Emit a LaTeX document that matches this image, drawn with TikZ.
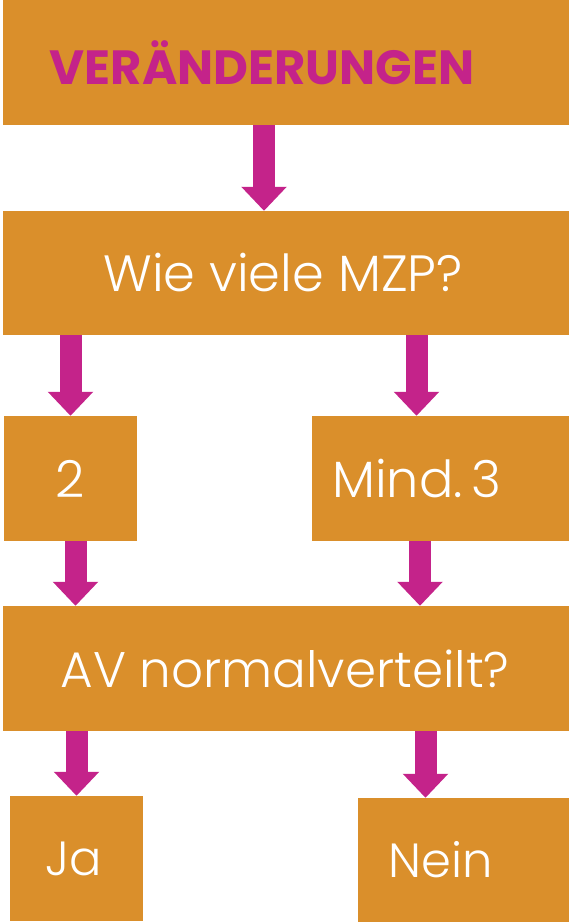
\documentclass[tikz,border=0pt]{standalone}
\usepackage{fontspec}
\setmainfont{Poppins}[UprightFont=* Light, BoldFont=* Bold]
\usetikzlibrary{arrows.meta}

\definecolor{boxorange}{RGB}{218,143,43}
\definecolor{arrowpink}{RGB}{196,35,138}

\tikzset{
	box/.style={fill=boxorange, inner sep=0pt, minimum height=125pt},
	boxtext/.style={text=white, font=\fontsize{51}{51}\selectfont},
	flow/.style={arrowpink, line width=22pt, -{Triangle[length=24pt,width=44pt]}}
}

\begin{document}
\begin{tikzpicture}[x=1pt, y=-1pt]
	  \useasboundingbox (0,0) rectangle (569,922);

	  \node [box, minimum width=566pt,
	    label={[xshift=-24pt, text=arrowpink, font=\fontsize{48}{48}\selectfont\bfseries]center:VERÄNDERUNGEN}] (title) at (286,62.5) {};
	  \node [box, minimum width=566pt, minimum height=124pt,
	    label={[xshift=-3pt, boxtext]center:Wie viele MZP?}] (mzp) at (286,273) {};

	  \node [box, minimum width=133pt, label={[boxtext]center:2}] (zwei) at (70.5,478.5) {};
	  \node [box, minimum width=257pt, label={[xshift=-23.5pt, boxtext]center:Mind.\hspace{-0.1em}~3}] (mind) at (440.5,478.5) {};

	  \node [box, minimum width=566pt,
	    label={[xshift=-1pt, boxtext, font=\fontsize{50}{50}\selectfont]center:AV normalverteilt?}] (av) at (286,668.5) {};

	  \node [box, minimum width=133pt, label={[xshift=-2.5pt, boxtext, font=\fontsize{48}{48}\selectfont]center:Ja}] (ja) at (76.5,858.5) {};
	  \node [box, minimum width=211pt, minimum height=124pt,
	    label={[xshift=-22.5pt, boxtext, font=\fontsize{48}{48}\selectfont]center:Nein}] (nein) at (463.5,860) {};

	  \draw [flow] ([xshift=-22pt]title.south) -- ([xshift=-22pt]mzp.north);

	  \draw [flow] (mzp.south -| zwei.north) -- (zwei.north);
	  \draw [flow] ([xshift=-24pt]mind.north |- mzp.south) -- ([xshift=-24pt]mind.north);

	  \draw [flow] ([xshift=5pt]zwei.south) -- ([xshift=5pt]zwei.south |- av.north);
	  \draw [flow] ([xshift=-20.5pt]mind.south) -- ([xshift=-20.5pt]mind.south |- av.north);

	  \draw [flow] (av.south -| ja.north) -- (ja.north);
	  \draw [flow] ([xshift=-38pt]nein.north |- av.south) -- ([xshift=-38pt]nein.north);
	\end{tikzpicture}
\end{document}
